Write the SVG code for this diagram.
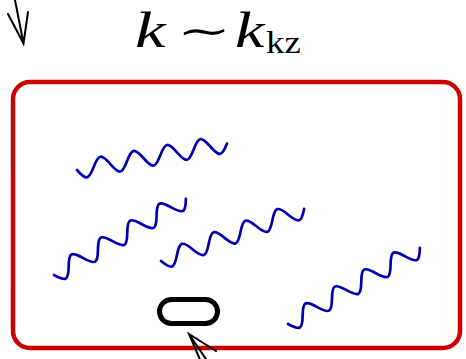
<svg xmlns="http://www.w3.org/2000/svg" xmlns:xlink="http://www.w3.org/1999/xlink" width="466" height="359" viewBox="0 0 466 359">
<style>
.wave{fill:none;stroke:#0000b3;stroke-width:2.7;stroke-linecap:round}
.box{fill:none;stroke:#cc0000;stroke-width:4.5}
.arr{fill:none;stroke:#000;stroke-width:2;stroke-linecap:round}
.lbl{font-family:"Liberation Serif","DejaVu Serif",serif;fill:#000}
.mk{font-style:italic;font-size:51px}
</style>
<defs>
<path id="wave" class="wave" d="M0,0 c2.76,4.61 5.4,9 8.46,9 s5.7,-4.39 8.46,-9 s5.4,-9 8.46,-9 s5.7,4.39 8.46,9 s5.4,9 8.46,9 s5.7,-4.39 8.46,-9 s5.4,-9 8.46,-9 s5.7,4.39 8.46,9 s5.4,9 8.46,9 s5.7,-4.39 8.46,-9 s5.4,-9 8.46,-9 s5.7,4.39 8.46,9 s5.4,9 8.46,9 s5.7,-4.39 8.46,-9 s5.4,-9 8.46,-9 s5.7,4.39 8.46,9 s5.4,9 8.46,9 s5.7,-4.39 8.46,-9"/>
</defs>
<g id="label">
<text class="lbl mk" transform="translate(135,47) scale(1.35,1)">k</text>
<text class="lbl" font-family="DejaVu Sans" font-size="38" transform="translate(177,44) scale(1.7,1)">∼</text>
<text class="lbl mk" transform="translate(235,47) scale(1.3,1)">k</text>
<text class="lbl" font-size="32" transform="translate(266,53) scale(1.15,1)">kz</text>
</g>
<g id="region">
<rect class="box" x="13" y="82" width="447" height="266" rx="17"/>
</g>
<g id="waves">
<use xlink:href="#wave" transform="translate(77,170) rotate(-10)"/>
<use xlink:href="#wave" transform="translate(54,275) rotate(-30)"/>
<use xlink:href="#wave" transform="translate(161,261) rotate(-20)"/>
<use xlink:href="#wave" transform="translate(288,324) rotate(-30)"/>
</g>
<g id="particle">
<rect x="159.5" y="299.5" width="58" height="24" rx="12" fill="none" stroke="#000" stroke-width="5"/>
</g>
<g id="connectors">
<path class="arr" d="M14,-5 L23.5,43.5 M8,14 L23.5,43.5 L28,12"/>
<path class="arr" d="M189,334 L212,368 M216,351 L189,334 L201,362"/>
</g>
</svg>
